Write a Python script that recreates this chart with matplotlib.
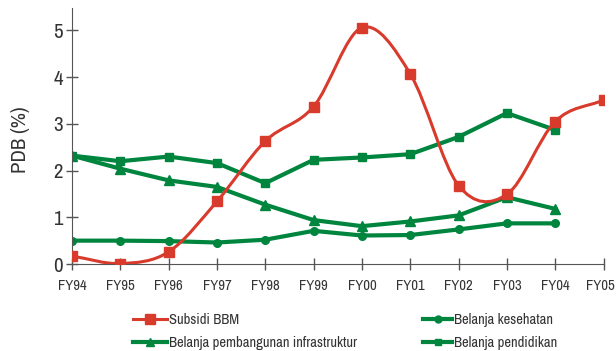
import numpy as np
import matplotlib
matplotlib.use("Agg")
import matplotlib.pyplot as plt
from matplotlib import font_manager
from matplotlib.path import Path
from matplotlib.patches import PathPatch
from matplotlib.lines import Line2D

# cari font sempit kalau ada, kalau tidak pakai Roboto
sempit = sorted({f.name for f in font_manager.fontManager.ttflist
                 if 'Narrow' in f.name or 'Condensed' in f.name})
keluarga = sempit[:1] + ['Roboto', 'DejaVu Sans']
plt.rcParams['font.family'] = keluarga
adasempit = len(sempit) > 0

tahun = ['FY94', 'FY95', 'FY96', 'FY97', 'FY98', 'FY99', 'FY00',
         'FY01', 'FY02', 'FY03', 'FY04', 'FY05']
subsidi_bbm = [0.17, 0.01, 0.26, 1.34, 2.63, 3.37, 5.06, 4.07, 1.68, 1.49, 3.05, 3.51]
kesehatan = [0.50, 0.50, 0.49, 0.46, 0.52, 0.71, 0.61, 0.62, 0.74, 0.87, 0.87]
infrastruktur = [2.32, 2.04, 1.79, 1.65, 1.27, 0.94, 0.81, 0.91, 1.04, 1.43, 1.18]
pendidikan = [2.32, 2.20, 2.30, 2.16, 1.73, 2.23, 2.28, 2.35, 2.72, 3.23, 2.87]

merah = '#d83b2c'
hijau = '#00853f'
abu = '#333333'


def kurva_halus(xs, ys):
    # catmull-rom lewat titik data, digambar sebagai bezier
    p = np.column_stack([xs, ys]).astype(float)
    awal = 2 * p[0] - p[1]
    akhir = 2 * p[-1] - p[-2]
    q = np.vstack([awal, p, akhir])
    verts = [p[0]]
    codes = [Path.MOVETO]
    for i in range(1, len(q) - 2):
        c1 = q[i] + (q[i + 1] - q[i - 1]) / 6
        c2 = q[i + 1] - (q[i + 2] - q[i]) / 6
        verts += [c1, c2, q[i + 1]]
        codes += [Path.CURVE4] * 3
    return Path(verts, codes)


k = 1.0 if adasempit else 0.85  # font biasa lebih lebar, kecilkan

fig = plt.figure(figsize=(6.16, 3.51), dpi=100)
ax = fig.add_axes([72 / 616, 1 - 264 / 351, 532 / 616, 256 / 351])

x = np.arange(len(tahun))

ax.add_patch(PathPatch(kurva_halus(x, subsidi_bbm), fill=False,
                       edgecolor=merah, lw=2.2, zorder=3))
ax.plot(x, subsidi_bbm, ls='none', marker='s', ms=7.5, color=merah, zorder=4)

n = len(kesehatan)
ax.plot(x[:n], kesehatan, color=hijau, lw=3, marker='o', ms=5.5, zorder=2)
ax.plot(x[:n], infrastruktur, color=hijau, lw=3, marker='^', ms=7, zorder=2)
ax.plot(x[:n], pendidikan, color=hijau, lw=3, marker='s', ms=6, zorder=2)

ax.set_xlim(0, 11.01)
ax.set_ylim(0, 5.48)
ax.set_xticks(x)
# label terakhir ditulis terpisah, digeser sedikit ke kiri supaya tidak terpotong
ax.set_xticklabels(tahun[:-1] + [''], fontsize=10.5 * k, color=abu)
ax.annotate(tahun[-1], xy=(x[-1], 0), xycoords=('data', 'axes fraction'),
            xytext=(-2.5, -10.5), textcoords='offset points',
            ha='center', va='top', fontsize=10.5 * k, color=abu)
ax.set_yticks(range(6))
ax.set_yticklabels([str(v) for v in range(6)], fontsize=15 * k, color=abu)
ax.tick_params(axis='both', direction='inout', length=9, width=1, color='#555555')
ax.tick_params(axis='x', pad=6)
ax.tick_params(axis='y', pad=2)
for s in ['top', 'right']:
    ax.spines[s].set_visible(False)
for s in ['left', 'bottom']:
    ax.spines[s].set_color('#555555')
ax.set_ylabel('PDB (%)', fontsize=15 * k, color=abu)
ax.yaxis.set_label_coords(-42 / 532, 0.484)

kiri = [Line2D([], [], color=merah, lw=2.2, marker='s', ms=7),
        Line2D([], [], color=hijau, lw=3, marker='^', ms=6)]
kanan = [Line2D([], [], color=hijau, lw=3, marker='o', ms=5),
         Line2D([], [], color=hijau, lw=3, marker='s', ms=5)]
gaya = dict(loc='upper left', frameon=False, fontsize=10.5 * k,
            handletextpad=0.15, labelspacing=0.6, borderpad=0, labelcolor=abu)
fig.legend(kiri, ['Subsidi BBM', 'Belanja pembangunan infrastruktur'],
           bbox_to_anchor=(126 / 616, 1 - 306 / 351), handlelength=2.3, **gaya)
fig.legend(kanan, ['Belanja kesehatan', 'Belanja pendidikan'],
           bbox_to_anchor=(416 / 616, 1 - 306 / 351), handlelength=1.95, **gaya)

fig.savefig('out.png', dpi=100)
